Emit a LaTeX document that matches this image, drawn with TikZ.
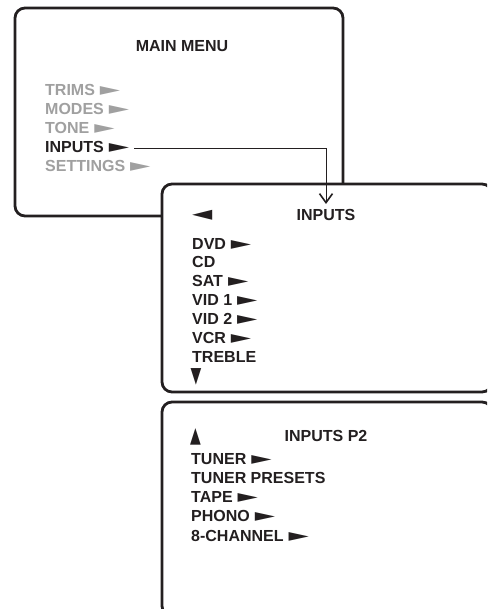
\documentclass[tikz,border=0pt]{standalone}
\usepackage{fontspec}
\setmainfont{Liberation Sans}
\newfontfamily\symfont{DejaVu Sans}
\usetikzlibrary{arrows.meta}
\definecolor{ink}{RGB}{35,31,32}
\definecolor{dim}{RGB}{160,160,160}
\newcommand{\rp}{\hspace{5pt}{\symfont\scalebox{1.65}[1.1]{►}}}
\begin{document}
\begin{tikzpicture}[x=1pt,y=-1pt,
  box/.style={draw=ink,line width=2.8pt,rounded corners=10pt,fill=white},
  item/.style={anchor=base west,inner sep=0pt,font=\fontsize{16}{18}\selectfont\bfseries,text=ink},
  dimitem/.style={item,text=dim},
  heading/.style={anchor=base,inner sep=0pt,font=\fontsize{16}{18}\selectfont\bfseries,text=ink},
  sym/.style={anchor=base west,inner sep=0pt,font=\fontsize{15.5}{18}\selectfont\symfont,text=ink},
  link/.style={draw=ink,line width=1pt,-{Straight Barb[length=9pt,width=13pt,line width=1.6pt]}}]
\useasboundingbox (0,0) rectangle (487,609);
\begin{scope}
\clip (0,0) rectangle (487,609);
\draw[box] (15,8) rectangle (343,216);
\draw[box] (162,184) rectangle (492,392);
\draw[box] (162,402) rectangle (492,616);
\end{scope}
% main menu
\node[heading] (mm) at (182,51.5) {MAIN MENU};
\node[dimitem] (trims) at (45,96) {TRIMS\rp};
\node[dimitem] (modes) at (45,115) {MODES\rp};
\node[dimitem] (tone) at (45,133.7) {TONE\rp};
\node[item] (inp) at (45,152.5) {INPUTS\rp};
\node[dimitem] (sett) at (45,171.5) {SETTINGS\rp};
% inputs
\node[sym] (left) at (192,221) {\scalebox{1.7}[1.3]{◄}};
\node[heading] (ih) at (326,221) {INPUTS};
\node[item] (dvd) at (192,249) {DVD\rp};
\node[item] (cd) at (192,267.5) {CD};
\node[item] (sat) at (192,286) {SAT\rp};
\node[item] (vid1) at (192,305) {VID 1\rp};
\node[item] (vid2) at (192,324) {VID 2\rp};
\node[item] (vcr) at (192,343) {VCR\rp};
\node[item] (treble) at (192,362) {TREBLE};
\node[sym] (down) at (190.5,382) {\scalebox{0.9}[1.4]{▼}};
% inputs p2
\node[sym] (up) at (190,442) {\scalebox{0.9}[1.4]{▲}};
\node[heading] (ih2) at (326,441) {INPUTS P2};
\node[item] (tuner) at (191,464.5) {TUNER\rp};
\node[item] (presets) at (191,483.5) {TUNER PRESETS};
\node[item] (tape) at (191,502.5) {TAPE\rp};
\node[item] (phono) at (191,521.5) {PHONO\rp};
\node[item] (ch8) at (191,541.5) {8-CHANNEL\rp};
% connector
\coordinate (tip) at (326,204);
\draw[link] ([xshift=5pt,yshift=-1.5pt]inp.east) -| (tip);
\end{tikzpicture}
\end{document}
